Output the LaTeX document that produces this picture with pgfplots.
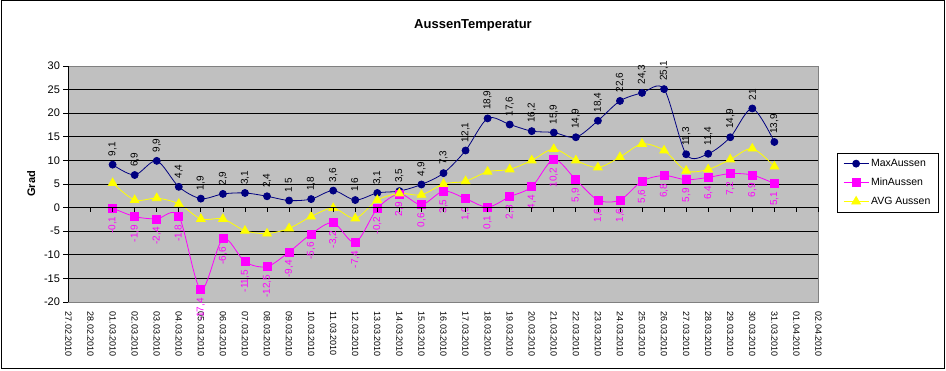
\documentclass[border=0pt]{standalone}
\usepackage{pgfplots}
\pgfplotsset{compat=1.18}
\usepackage{pgfplotstable}
\usepackage{fontspec}
\setmainfont{Liberation Sans}
\definecolor{maxc}{RGB}{0,0,128}
\definecolor{minc}{RGB}{255,0,255}
\definecolor{avgc}{RGB}{255,255,0}
\definecolor{plotbg}{RGB}{192,192,192}
\definecolor{borderc}{RGB}{128,128,128}

\pgfplotstableread{
x max min avg
2 9.1 -0.1 5.2
3 6.9 -1.9 1.6
4 9.9 -2.4 2.0
5 4.4 -1.8 0.8
6 1.9 -17.4 -2.4
7 2.9 -6.6 -2.4
8 3.1 -11.5 -4.9
9 2.4 -12.5 -5.5
10 1.5 -9.4 -4.4
11 1.8 -5.6 -1.9
12 3.6 -3.2 -0.1
13 1.6 -7.4 -2.3
14 3.1 -0.2 1.6
15 3.5 2.9 3.0
16 4.9 0.6 2.7
17 7.3 3.5 5.0
18 12.1 1.9 5.6
19 18.9 0.1 7.6
20 17.6 2.3 8.1
21 16.2 4.4 10.0
22 15.9 10.2 12.4
23 14.9 5.9 10.0
24 18.4 1.6 8.5
25 22.6 1.6 10.7
26 24.3 5.6 13.5
27 25.1 6.8 12.1
28 11.3 5.9 7.8
29 11.4 6.4 8.1
30 14.9 7.2 10.2
31 21 6.9 12.5
32 13.9 5.1 8.7
}\tempdata

\begin{document}
\begin{tikzpicture}[x=1pt,y=1pt]
\useasboundingbox (0,0) rectangle (946,371);
\draw[black, line width=1pt] (1.5,2.5) rectangle (944.5,370);
\node[font=\bfseries\fontsize{13}{15}\selectfont] at (473,346) {AussenTemperatur};

\begin{axis}[
  at={(68.5pt,69pt)}, anchor=south west,
  scale only axis, width=750pt, height=236pt,
  xmin=0, xmax=34, ymin=-20, ymax=30,
  axis background/.style={fill=plotbg},
  axis line style={draw=borderc, line width=0.8pt},
  clip=false,
  xtick={0,...,34},
  xticklabels={27.02.2010,28.02.2010,01.03.2010,02.03.2010,03.03.2010,04.03.2010,05.03.2010,06.03.2010,07.03.2010,08.03.2010,09.03.2010,10.03.2010,11.03.2010,12.03.2010,13.03.2010,14.03.2010,15.03.2010,16.03.2010,17.03.2010,18.03.2010,19.03.2010,20.03.2010,21.03.2010,22.03.2010,23.03.2010,24.03.2010,25.03.2010,26.03.2010,27.03.2010,28.03.2010,29.03.2010,30.03.2010,31.03.2010,01.04.2010,02.04.2010},
  xtick style={draw=none},
  xticklabel style={rotate=-90, anchor=west, font=\fontsize{9}{10}\selectfont},
  xticklabel shift=6pt,
  ytick={-20,-15,...,30},
  ytick pos=left, ytick align=outside,
  ytick style={black, line width=0.8pt},
  major tick length=5pt,
  yticklabel style={font=\fontsize{11}{12}\selectfont},
  /pgf/number format/assume math mode=true,
  ymajorgrids, grid style={black, line width=0.8pt},
  ylabel={\bfseries Grad},
  ylabel style={font=\fontsize{11}{12}\selectfont, xshift=0pt, yshift=2pt},
  legend style={at={(1.0247,0.631)}, anchor=north west, draw=black, fill=white,
    font=\fontsize{10.5}{12}\selectfont, row sep=6pt, inner xsep=6pt, inner ysep=4pt, cells={anchor=west}},
  legend image code/.code={\draw[mark repeat=2,mark phase=2,#1] plot coordinates {(0pt,0pt)(12.5pt,0pt)(25pt,0pt)};},
  nodes near coords,
  /pgf/number format/.cd, use comma, fixed, precision=1, /pgfplots/.cd,
]
\addplot[maxc, line width=0.8pt, smooth, tension=0.5, mark=*, mark size=3.5pt,
  mark options={solid, fill=maxc, draw=maxc},
  every node near coord/.style={rotate=90, anchor=west, black, inner xsep=8pt, inner ysep=0pt,
    font=\fontsize{10}{11}\selectfont}]
  table[x=x, y=max] {\tempdata};
\addlegendentry{MaxAussen}
\addplot[minc, line width=0.8pt, smooth, tension=0.5, mark=square*, mark size=4pt,
  mark options={solid, fill=minc, draw=minc},
  every node near coord/.style={rotate=90, anchor=east, minc, inner xsep=8pt, inner ysep=0pt,
    font=\fontsize{10}{11}\selectfont}]
  table[x=x, y=min] {\tempdata};
\addlegendentry{MinAussen}
\addplot[avgc, line width=0.8pt, smooth, tension=0.5, mark=triangle*, mark size=5pt,
  mark options={solid, fill=avgc, draw=avgc}, nodes near coords=]
  table[x=x, y=avg] {\tempdata};
\addlegendentry{AVG Aussen}
\end{axis}

\begin{axis}[
  at={(68.5pt,69pt)}, anchor=south west,
  scale only axis, width=750pt, height=236pt,
  xmin=0, xmax=34, ymin=-20, ymax=30,
  axis x line=middle, axis y line=left,
  axis line style={-, black, line width=0.8pt},
  xtick={0,...,34}, xticklabels={},
  ytick=\empty,
  xtick align=outside, major tick length=4pt,
  xtick style={black, line width=0.8pt},
]
\end{axis}
\end{tikzpicture}
\end{document}
